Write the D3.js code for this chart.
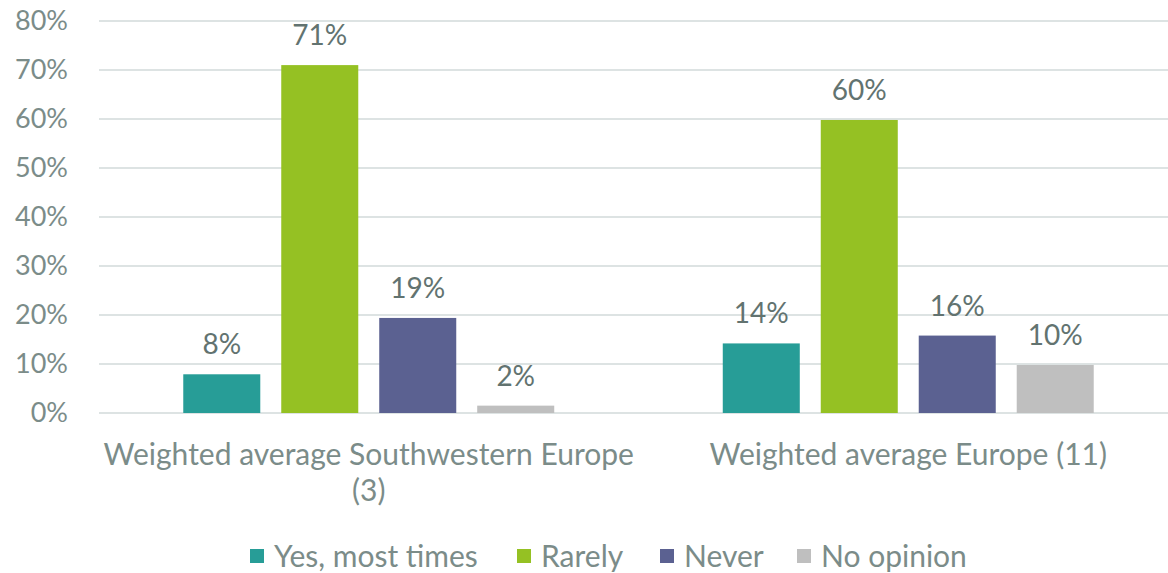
<!DOCTYPE html>
<html>
<head>
<meta charset="utf-8">
<script src="https://cdn.jsdelivr.net/npm/d3@7"></script>
<style>
  body { margin: 0; background: #fff; }
  text { font-family: Lato, "Open Sans", sans-serif; }
</style>
</head>
<body>
<div id="chart"></div>
<script>
// chart data
var categories = ["Weighted average Southwestern Europe (3)", "Weighted average Europe (11)"];
var seriesNames = ["Yes, most times", "Rarely", "Never", "No opinion"];
var yesMostTimes = [0.079, 0.142];
var rarely = [0.710, 0.598];
var never = [0.194, 0.158];
var noOpinion = [0.015, 0.098];
var yTicks = [0, 0.1, 0.2, 0.3, 0.4, 0.5, 0.6, 0.7, 0.8];
var colors = ["#279d97", "#95c123", "#5b6191", "#bfbfbf"];

var svgWidth = 1168;
var svgHeight = 573;

var svg = d3.select("#chart")
    .append("svg")
    .attr("width", svgWidth)
    .attr("height", svgHeight);

var seriesValues = [yesMostTimes, rarely, never, noOpinion];
var rows = categories.map(function (c, i) {
    return {
        category: c,
        values: seriesNames.map(function (s, j) {
            return { series: s, value: seriesValues[j][i] };
        })
    };
});

// plot area runs a little past the right edge, like the original
var x0 = d3.scaleBand()
    .domain(categories)
    .range([99, 1178]);

var x1 = d3.scaleBand()
    .domain(seriesNames)
    .range([0, x0.bandwidth()])
    .paddingInner(0.214)
    .paddingOuter(0.86);

var y = d3.scaleLinear()
    .domain([0, 0.8])
    .range([413, 21]);

var color = d3.scaleOrdinal()
    .domain(seriesNames)
    .range(colors);

// gridlines
svg.append("g")
    .selectAll("line")
    .data(yTicks)
    .enter()
    .append("line")
    .attr("x1", 99)
    .attr("x2", svgWidth)
    .attr("y1", d => y(d))
    .attr("y2", d => y(d))
    .attr("stroke", "#dde3e3")
    .attr("stroke-width", 2);

// y axis labels
var leftAxis = d3.axisLeft(y)
    .tickValues(yTicks)
    .tickFormat(d3.format(".0%"))
    .tickSize(0)
    .tickPadding(0);

var yAxis = svg.append("g")
    .attr("transform", "translate(68,0)")
    .call(leftAxis);
yAxis.select(".domain").remove();
yAxis.selectAll("text")
    .attr("fill", "#7b8c89")
    .style("font-size", "27px")
    .style("font-family", "Lato, sans-serif");

// bars
var groups = svg.selectAll(".group")
    .data(rows)
    .enter()
    .append("g")
    .attr("class", "group")
    .attr("transform", d => `translate(${x0(d.category)},0)`);

groups.selectAll("rect")
    .data(d => d.values)
    .enter()
    .append("rect")
    .attr("x", d => x1(d.series))
    .attr("y", d => y(d.value))
    .attr("width", x1.bandwidth())
    .attr("height", d => y(0) - y(d.value))
    .attr("fill", d => color(d.series));

groups.selectAll(".label")
    .data(d => d.values)
    .enter()
    .append("text")
    .attr("class", "label")
    .attr("x", d => x1(d.series) + x1.bandwidth() / 2)
    .attr("y", d => y(d.value) - 20)
    .attr("text-anchor", "middle")
    .attr("fill", "#627370")
    .style("font-size", "28px")
    .text(d => d3.format(".0%")(d.value));

// category labels, wrapped to the band width
var bottomAxis = d3.axisBottom(x0).tickSize(0).tickPadding(0);
var xAxis = svg.append("g")
    .call(bottomAxis);
xAxis.select(".domain").remove();
xAxis.selectAll("text").remove();

xAxis.selectAll(".tick").each(function (d) {
    var g = d3.select(this);
    var t = g.append("text")
        .attr("text-anchor", "middle")
        .attr("fill", "#7b8c89")
        .style("font-size", "30px");
    var words = d.split(" ");
    var lines = [];
    var line = [];
    var probe = t.append("tspan");
    words.forEach(function (w) {
        line.push(w);
        probe.text(line.join(" "));
        if (probe.node().getComputedTextLength() > x0.bandwidth() && line.length > 1) {
            line.pop();
            lines.push(line.join(" "));
            line = [w];
        }
    });
    lines.push(line.join(" "));
    probe.remove();
    lines.forEach(function (l, i) {
        t.append("tspan")
            .attr("x", 0)
            .attr("y", 465 + i * 36)
            .text(l);
    });
});

// legend
var legendItems = [
    { name: seriesNames[0], x: 250 },
    { name: seriesNames[1], x: 517 },
    { name: seriesNames[2], x: 660 },
    { name: seriesNames[3], x: 797 }
];

var legend = svg.append("g");
var items = legend.selectAll("g")
    .data(legendItems)
    .enter()
    .append("g")
    .attr("transform", d => `translate(${d.x},549)`);

items.append("rect")
    .attr("width", 14)
    .attr("height", 14)
    .attr("fill", d => color(d.name));

items.append("text")
    .attr("x", 24)
    .attr("y", 18)
    .attr("fill", "#7b8c89")
    .style("font-size", "30px")
    .text(d => d.name);
</script>
</body>
</html>
